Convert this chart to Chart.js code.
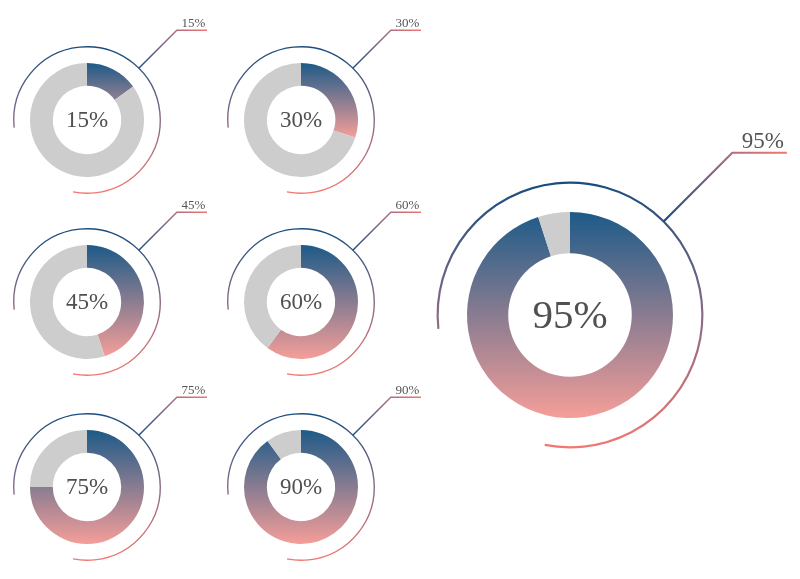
<!DOCTYPE html>
<html lang="en">
<head>
<meta charset="UTF-8">
<title>Percent donuts</title>
<script src="https://cdn.jsdelivr.net/npm/chart.js"></script>
<style>
  * { margin: 0; padding: 0; box-sizing: border-box; }
  body { width: 800px; height: 579px; background: #fff; position: relative; overflow: hidden; }
  canvas.donut { position: absolute; }
</style>
</head>
<body>
<script>
// data
const percents = [15, 30, 45, 60, 75, 90, 95];
const percentLabels = ['15%', '30%', '45%', '60%', '75%', '90%', '95%'];

// layout: center, ring radius, canvas size
const spots = [
    { x: 87,  y: 120, r: 57,  size: 280 },
    { x: 301, y: 120, r: 57,  size: 280 },
    { x: 87,  y: 302, r: 57,  size: 280 },
    { x: 301, y: 302, r: 57,  size: 280 },
    { x: 87,  y: 487, r: 57,  size: 280 },
    { x: 301, y: 487, r: 57,  size: 280 },
    { x: 570, y: 315, r: 103, size: 480 }
];

const BLUE = '#1d5a88';
const PINK = '#f59e99';
const LINE_BLUE = '#174d7e';
const LINE_PINK = '#f2776f';
const GRAY = '#cdcdcd';
const FONT = '"Liberation Serif", "DejaVu Serif", serif';

const deg = d => d * Math.PI / 180;

// lowest y reached by the coloured segment (relative to center, in radii)
function segmentBottom(p) {
    const end = -90 + 360 * p / 100;
    if (end >= 90) return 1;
    const sEnd = Math.sin(deg(end));
    return Math.max(sEnd, 0.6 * sEnd, 0.18);
}

// outer ring, leader line, labels
const decor = {
    id: 'decor',
    afterDatasetsDraw(chart, args, opts) {
        const arc = chart.getDatasetMeta(0).data[0];
        if (!arc) return;
        const c = chart.ctx;
        const cx = arc.x, cy = arc.y, R = arc.outerRadius;
        const ringR = R * 1.285;
        const lw = Math.max(1.4, R * 0.021);

        c.save();
        // ring
        let g = c.createLinearGradient(0, cy - ringR, 0, cy + ringR);
        g.addColorStop(0, LINE_BLUE);
        g.addColorStop(0.5, '#8a6a86');
        g.addColorStop(1, LINE_PINK);
        c.strokeStyle = g;
        c.lineWidth = lw;
        c.beginPath();
        c.arc(cx, cy, ringR, deg(174), deg(101) + Math.PI * 2);
        c.stroke();

        // leader
        const sx = cx + ringR * Math.cos(deg(-45));
        const sy = cy + ringR * Math.sin(deg(-45));
        const d = R * 0.667;
        const ex = sx + d, ey = sy - d;
        const hx = ex + R * 0.53;
        g = c.createLinearGradient(sx, sy, hx, ey);
        g.addColorStop(0, LINE_BLUE);
        g.addColorStop(0.55, '#9a6a82');
        g.addColorStop(1, LINE_PINK);
        c.strokeStyle = g;
        c.beginPath();
        c.moveTo(sx, sy);
        c.lineTo(ex, ey);
        c.lineTo(hx, ey);
        c.stroke();

        // label above line
        c.fillStyle = '#555';
        c.font = Math.round(R * 0.22) + 'px ' + FONT;
        c.textAlign = 'right';
        c.textBaseline = 'alphabetic';
        c.fillText(opts.label, hx - R * 0.03, ey - R * 0.05);

        // center text
        c.fillStyle = '#505050';
        c.font = Math.round(R * 0.4) + 'px ' + FONT;
        c.textAlign = 'center';
        c.textBaseline = 'middle';
        c.fillText(opts.label, cx, cy + R * 0.02);
        c.restore();
    }
};

percents.forEach((p, i) => {
    const s = spots[i];
    const cv = document.createElement('canvas');
    cv.className = 'donut';
    cv.width = s.size;
    cv.height = s.size;
    cv.style.left = (s.x - s.size / 2) + 'px';
    cv.style.top = (s.y - s.size / 2) + 'px';
    document.body.appendChild(cv);

    new Chart(cv.getContext('2d'), {
        type: 'doughnut',
        data: {
            labels: ['value', 'rest'],
            datasets: [{
                data: [p, 100 - p],
                backgroundColor: ctx => {
                    if (ctx.dataIndex === 1) return GRAY;
                    const a = ctx.chart.chartArea;
                    if (!a) return BLUE;
                    const cy = (a.top + a.bottom) / 2;
                    const bottom = cy + s.r * segmentBottom(p);
                    const g = ctx.chart.ctx.createLinearGradient(0, cy - s.r, 0, bottom);
                    g.addColorStop(0, BLUE);
                    g.addColorStop(1, PINK);
                    return g;
                },
                borderWidth: 0
            }]
        },
        options: {
            responsive: false,
            animation: false,
            radius: s.r,
            cutout: '60%',
            events: [],
            plugins: {
                legend: { display: false },
                tooltip: { enabled: false },
                decor: { label: percentLabels[i] }
            }
        },
        plugins: [decor]
    });
});
</script>
</body>
</html>
